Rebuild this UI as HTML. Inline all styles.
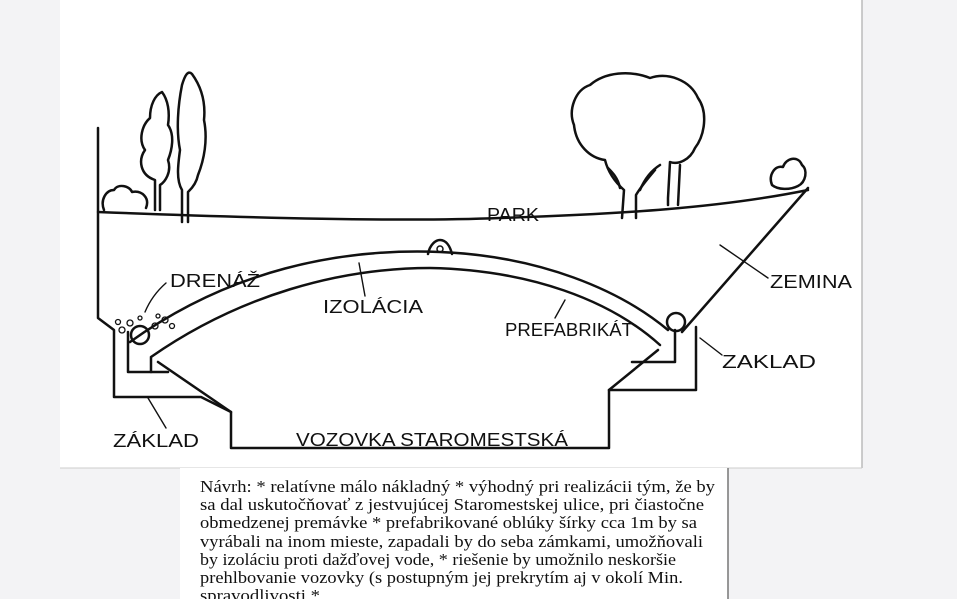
<!DOCTYPE html>
<html><head><meta charset="utf-8"><style>
html,body{margin:0;padding:0;background:#f3f3f5;width:957px;height:599px;overflow:hidden}
svg{display:block}
.h{font-family:"Liberation Sans",sans-serif;font-size:18px;fill:#111}
.t{font-family:"Liberation Serif",serif;font-size:17px;fill:#111}
</style></head><body>
<svg width="957" height="599" viewBox="0 0 957 599" xmlns="http://www.w3.org/2000/svg">
<rect x="60" y="0" width="802" height="468" fill="#fff"/>
<line x1="862" y1="0" x2="862" y2="468" stroke="#bbb" stroke-width="1.5"/>
<line x1="60" y1="468" x2="862" y2="468" stroke="#ccc" stroke-width="1"/>
<rect x="180" y="468" width="548" height="131" fill="#fff"/>
<line x1="728" y1="468" x2="728" y2="599" stroke="#777" stroke-width="1.5"/>

<g fill="none" stroke="#111" stroke-width="2.5" stroke-linejoin="round" stroke-linecap="round">
<path d="M98,128 L98,318 L114,330 L114,397 L201,397 L231,412 L231,448 L609,448 L609,390 L696,390 L696,327"/>
<path d="M682,332 L808,188"/>
<path d="M98,212 C250,218 400,222 500,218 C620,214 720,208 808,190"/>
<path d="M128,332 L128,372 L168,372"/>
<path d="M151,358 L151,372"/>
<path d="M158,362 L231,412"/>
<path d="M130,342 C230,270 340,248 440,252 C540,256 620,290 668,330"/>
<path d="M151,357 C240,295 340,268 430,268 C530,270 610,300 660,345"/>
<path d="M658,350 L609,390"/>
<path d="M632,362 L675,362 L675,330"/>
<circle cx="140" cy="335" r="9"/>
<circle cx="676" cy="322" r="9"/>
<path d="M428,254 C430,244 436,240 440,240 C446,240 450,246 452,254"/>
<circle cx="440" cy="249" r="3" stroke-width="1.5"/>
<g stroke-width="1.3">
<circle cx="122" cy="330" r="3"/><circle cx="130" cy="323" r="3"/><circle cx="155" cy="326" r="3"/><circle cx="165" cy="320" r="3"/><circle cx="172" cy="326" r="2.5"/><circle cx="118" cy="322" r="2.5"/><circle cx="158" cy="316" r="2"/><circle cx="140" cy="318" r="2"/>
</g>
<g stroke-width="1.4">
<path d="M145,312 C150,300 158,290 166,283"/>
<path d="M359,263 L365,296"/>
<path d="M565,300 L555,318"/>
<path d="M720,245 L768,278"/>
<path d="M700,338 L722,355"/>
<path d="M148,398 L166,428"/>
</g>
<path d="M155,210 L155,180 C140,175 138,160 145,150 C138,140 142,125 150,118 C150,105 155,95 162,92 C168,100 170,112 168,125 C175,135 172,150 168,160 C172,172 165,182 160,185 L160,210"/>
<path d="M182,222 L182,190 C176,180 178,165 180,150 C176,130 178,105 182,85 C185,75 188,70 192,74 C200,85 206,100 204,120 C208,140 204,160 198,175 C196,185 190,190 188,192 L188,222"/>
<path d="M104,210 C100,200 106,190 114,190 C118,183 130,186 132,192 C142,190 150,198 146,208"/>
<path d="M622,218 L624,190 C615,182 608,172 605,160 C590,158 576,145 574,125 C568,110 575,90 590,85 C605,72 630,70 650,78 C668,72 690,80 698,98 C708,112 705,135 695,148 C690,160 678,165 670,162 L668,198 L668,205 M678,205 L680,165 M636,218 L636,195 C642,185 650,176 655,170"/>
<path d="M620,188 C618,178 612,172 608,168 M640,190 C645,178 652,170 660,165"/>
<path d="M772,185 C768,175 775,165 783,167 C786,158 798,155 802,165 C808,170 806,182 798,186 C790,190 778,190 772,185"/>
</g>

<g class="h">
<text x="487" y="221" textLength="52" lengthAdjust="spacingAndGlyphs">PARK</text>
<text x="170" y="287" textLength="90" lengthAdjust="spacingAndGlyphs">DRENÁŽ</text>
<text x="323" y="313" textLength="100" lengthAdjust="spacingAndGlyphs">IZOLÁCIA</text>
<text x="505" y="336" textLength="128" lengthAdjust="spacingAndGlyphs">PREFABRIKÁT</text>
<text x="770" y="288" textLength="82" lengthAdjust="spacingAndGlyphs">ZEMINA</text>
<text x="722" y="368" textLength="94" lengthAdjust="spacingAndGlyphs">ZAKLAD</text>
<text x="113" y="447" textLength="86" lengthAdjust="spacingAndGlyphs">ZÁKLAD</text>
<text x="296" y="446" textLength="272" lengthAdjust="spacingAndGlyphs">VOZOVKA STAROMESTSKÁ</text>
</g>

<g class="t">
<text x="200" y="492" textLength="515" lengthAdjust="spacingAndGlyphs">Návrh: * relatívne málo nákladný * výhodný pri realizácii tým, že by</text>
<text x="200" y="510" textLength="504" lengthAdjust="spacingAndGlyphs">sa dal uskutočňovať z jestvujúcej Staromestskej ulice, pri čiastočne</text>
<text x="200" y="528" textLength="497" lengthAdjust="spacingAndGlyphs">obmedzenej premávke * prefabrikované oblúky šírky cca 1m by sa</text>
<text x="200" y="547" textLength="503" lengthAdjust="spacingAndGlyphs">vyrábali na inom mieste, zapadali by do seba zámkami, umožňovali</text>
<text x="200" y="565" textLength="476" lengthAdjust="spacingAndGlyphs">by izoláciu proti dažďovej vode, * riešenie by umožnilo neskoršie</text>
<text x="200" y="583" textLength="483" lengthAdjust="spacingAndGlyphs">prehlbovanie vozovky (s postupným jej prekrytím aj v okolí Min.</text>
<text x="200" y="601" textLength="120" lengthAdjust="spacingAndGlyphs">spravodlivosti *</text>
</g>
</svg>
</body></html>
